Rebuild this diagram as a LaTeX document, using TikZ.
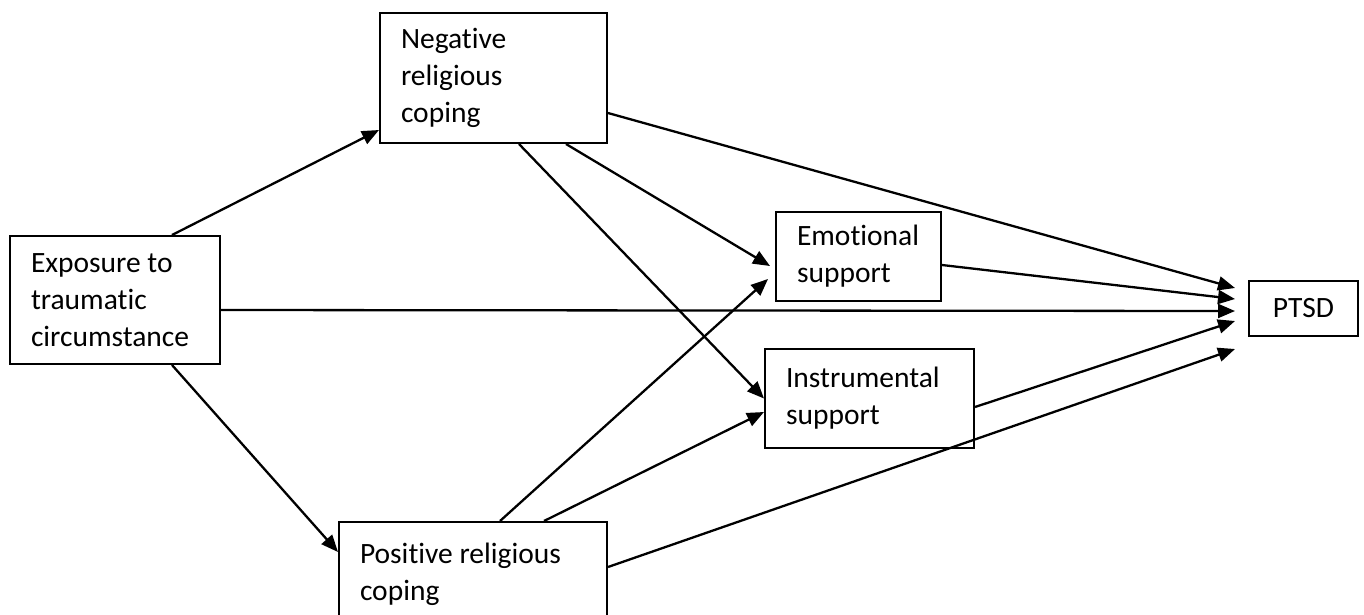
\documentclass[tikz,border=0pt]{standalone}
\usepackage{fontspec}
\setmainfont{Carlito}[Ligatures=NoCommon]
\usetikzlibrary{arrows.meta,calc}
\tikzstyle{pathbox} = [
  draw,
  line width=2pt,
  anchor=north west,
  align=flush left,
  inner xsep=21pt,
  inner ysep=0pt,
  font=\fontsize{29.5}{37}\selectfont,
]
\tikzstyle{effect} = [
  line width=2.3pt,
  -{Triangle[length=17pt,width=14pt]},
]

\begin{document}
\begin{tikzpicture}[x=1pt,y=-1pt]
  \useasboundingbox (0,0) rectangle (1364,614);

  % Boxes
  \node[pathbox, text width=168pt, minimum height=128pt] (expo) at (9,235) {Exposure to\\traumatic\\circumstance};
  \node[pathbox, text width=185pt, minimum height=130pt] (neg) at (379,12) {Negative\\religious\\coping};
  \node[pathbox, text width=123pt, minimum height=89pt] (emo) at (775,211) {Emotional\\support};
  \node[pathbox, text width=167pt, minimum height=99pt] (ins) at (764,348) {Instrumental\\support};
  \node[pathbox, text width=226pt, minimum height=104pt] (pos) at (338,521) {Positive religious\\coping};
  \node[pathbox, align=center, minimum width=109pt, minimum height=55pt] (ptsd) at (1248,280) {PTSD};

  % Arrows from exposure
  \draw[effect] ($(expo.north west)+(163,0)$) -- ($(neg.south west)+(0,-14)$);
  \draw[effect] ($(expo.south west)+(163,0)$) -- ($(pos.north west)+(0,31)$);
  \draw[effect] ($(expo.east)+(0,10)$) -- ($(ptsd.west)+(-13,2.5)$);

  % Arrows from negative coping
  \draw[effect] ($(neg.east)+(0,35)$) -- ($(ptsd.west)+(-13,-20.5)$);
  \draw[effect] ($(neg.south west)+(187,0)$) -- ($(emo.west)+(-5,9.5)$);
  \draw[effect] ($(neg.south west)+(140,0)$) -- (ins.west);

  % Arrows from positive coping
  \draw[effect] ($(pos.north west)+(162,0)$) -- ($(emo.west)+(-7,22.5)$);
  \draw[effect] ($(pos.north west)+(206,0)$) -- ($(ins.west)+(0,13.5)$);
  \draw[effect] ($(pos.north east)+(0,46)$) -- ($(ptsd.west)+(-13,40.5)$);

  % Arrows from support
  \draw[effect] ($(emo.east)+(0,8.5)$) -- ($(ptsd.west)+(-13,-9.5)$);
  \draw[effect] ($(ins.east)+(0,8.5)$) -- ($(ptsd.west)+(-13,12.5)$);
\end{tikzpicture}
\end{document}
